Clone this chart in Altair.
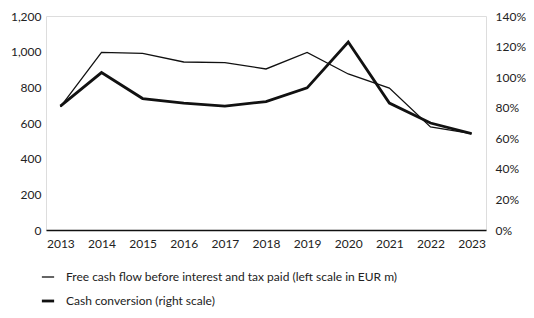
import altair as alt
import pandas as pd

years = ["2013", "2014", "2015", "2016", "2017", "2018", "2019", "2020", "2021", "2022", "2023"]
fcf = [690, 996, 990, 942, 939, 903, 996, 875, 796, 578, 540]
conversion = [0.81, 1.03, 0.86, 0.83, 0.81, 0.84, 0.93, 1.23, 0.83, 0.70, 0.63]
series = ["Free cash flow before interest and tax paid (left scale in EUR m)", "Cash conversion (right scale)"]

df_fcf = pd.DataFrame({"year": years, "value": fcf, "series": series[0]})
df_conv = pd.DataFrame({"year": years, "value": conversion, "series": series[1]})

FONT = "Lato"
TXT = "#222222"

legend = alt.Legend(title=None, orient="none", legendX=-6, legendY=254, symbolType="stroke",
                    symbolSize=150, labelFont=FONT, labelFontSize=12, labelColor=TXT,
                    rowPadding=10, labelOffset=10, labelLimit=500)

x = alt.X("year:O", scale=alt.Scale(type="point", padding=0.35),
          axis=alt.Axis(title=None, labelAngle=0, ticks=False, domain=True, domainColor="#111111",
                        domainWidth=1.5, labelPadding=8, labelFont=FONT, labelFontSize=12, labelColor=TXT))
color = alt.Color("series:N", scale=alt.Scale(domain=series, range=["#111111", "#111111"]), legend=legend)
sw = alt.StrokeWidth("series:N", scale=alt.Scale(domain=series, range=[1.3, 2.8]), legend=legend)

left = alt.Chart(df_fcf).mark_line(strokeJoin="miter").encode(
    x=x,
    y=alt.Y("value:Q", scale=alt.Scale(domain=[0, 1200]),
            axis=alt.Axis(title=None, values=[0, 200, 400, 600, 800, 1000, 1200], format=",.0f", grid=False,
                          ticks=False, domain=False, labelPadding=5, labelFont=FONT, labelFontSize=12, labelColor=TXT)),
    color=color, strokeWidth=sw,
)
right = alt.Chart(df_conv).mark_line(strokeJoin="miter").encode(
    x=x,
    y=alt.Y("value:Q", scale=alt.Scale(domain=[0, 1.4]),
            axis=alt.Axis(title=None, orient="right", values=[0, 0.2, 0.4, 0.6, 0.8, 1.0, 1.2, 1.4], format=".0%",
                          grid=False, ticks=False, domain=False, labelPadding=9, labelFont=FONT, labelFontSize=12,
                          labelColor=TXT)),
    color=color, strokeWidth=sw,
)

chart = alt.layer(left, right).resolve_scale(y="independent").properties(
    width=440, height=214,
    autosize=alt.AutoSizeParams(type="none"),
    padding={"left": 38, "top": 8, "right": 40, "bottom": 80},
).configure_view(stroke=None).configure(background="white")

chart.save("out.html", embed_options={"renderer": "svg", "actions": False})
